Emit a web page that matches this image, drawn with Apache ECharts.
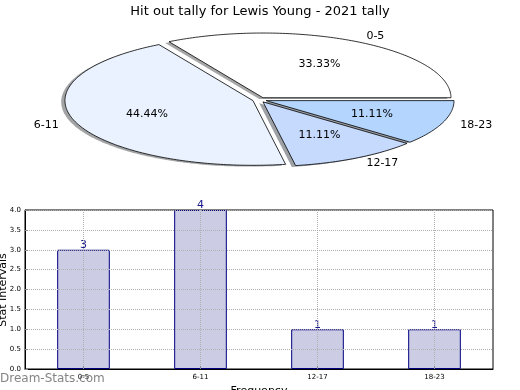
<!DOCTYPE html>
<html>
<head>
<meta charset="utf-8">
<script src="https://cdn.jsdelivr.net/npm/echarts@6/dist/echarts.min.js"></script>
<style>
html,body{margin:0;padding:0;background:#fff;}
#c{width:520px;height:390px;}
</style>
</head>
<body>
<div id="c"></div>
<script>
// ---- data ----
const categories = ['0-5', '6-11', '12-17', '18-23'];
const values = [3, 4, 1, 1];
const yTicks = ['0.0','0.5','1.0','1.5','2.0','2.5','3.0','3.5','4.0'];
const titleText = 'Hit out tally for Lewis Young - 2021 tally';
const yName = 'Stat Intervals';
const xName = 'Frequency';

// ---- style ----
const pieColors = ['#ffffff', '#eaf2ff', '#c6dafe', '#b4d5fe'];
const FONT = '"DejaVu Sans", sans-serif';
const pieLayout = { cx: 259.5, cy: 99.8, rx: 188, ry: 64.7, explode: 0.037, shadowDx: -0.02, shadowDy: -0.02 };
const gridLine = { color: '#b0b0b0', type: 'dotted', width: 1 };

const total = values.reduce((a, b) => a + b, 0);
const starts = [];
(function () { let acc = 0; values.forEach(v => { starts.push(acc); acc += v; }); })();

function shade(hex) {
  const n = parseInt(hex.slice(1), 16);
  const r = Math.round(((n >> 16) & 255) * 0.3), g = Math.round(((n >> 8) & 255) * 0.3), b = Math.round((n & 255) * 0.3);
  return 'rgba(' + r + ',' + g + ',' + b + ',0.5)';
}

function renderPie(params, api) {
  const i = params.dataIndex;
  const v = api.value(0);
  const L = pieLayout;
  const a0 = starts[i] / total * 2 * Math.PI;
  const a1 = (starts[i] + v) / total * 2 * Math.PI;
  const mid = (a0 + a1) / 2;
  const ox = L.cx + L.explode * L.rx * Math.cos(mid);
  const oy = L.cy - L.explode * L.ry * Math.sin(mid);
  const pts = [[ox, oy]];
  const n = Math.max(8, Math.ceil((a1 - a0) / (Math.PI / 180)));
  for (let k = 0; k <= n; k++) {
    const a = a0 + (a1 - a0) * k / n;
    pts.push([ox + L.rx * Math.cos(a), oy - L.ry * Math.sin(a)]);
  }
  const sdx = L.shadowDx * L.rx, sdy = -L.shadowDy * L.ry;
  const spts = pts.map(p => [p[0] + sdx, p[1] + sdy]);
  const lx = ox + 1.1 * L.rx * Math.cos(mid);
  const ly = oy - 1.1 * L.ry * Math.sin(mid);
  const px = ox + 0.6 * L.rx * Math.cos(mid);
  const py = oy - 0.6 * L.ry * Math.sin(mid);
  return {
    type: 'group',
    children: [
      { type: 'polygon', z2: 1, shape: { points: spts }, style: { fill: shade(pieColors[i]), stroke: null } },
      { type: 'polygon', z2: 10, shape: { points: pts }, style: { fill: pieColors[i], stroke: '#000', lineWidth: 0.8 } },
      { type: 'text', z2: 20, style: { text: categories[i], x: lx, y: ly, align: Math.cos(mid) > 0 ? 'left' : 'right', verticalAlign: 'middle', fill: '#000', font: '11px ' + FONT } },
      { type: 'text', z2: 20, style: { text: (v / total * 100).toFixed(2) + '%', x: px, y: py, align: 'center', verticalAlign: 'middle', fill: '#000', font: '11px ' + FONT } }
    ]
  };
}

const chart = echarts.init(document.getElementById('c'), null, { renderer: 'canvas' });
chart.setOption({
  animation: false,
  backgroundColor: '#fff',
  title: {
    text: titleText, left: 'center', top: 0,
    textStyle: { fontFamily: FONT, fontSize: 13, fontWeight: 'normal', color: '#000' }
  },
  grid: { left: 25, right: 27, top: 210, bottom: 21, containLabel: false, outerBoundsMode: 'none', show: true, borderColor: '#000', borderWidth: 1, backgroundColor: 'transparent' },
  xAxis: {
    type: 'category', data: categories, z: 5,
    name: xName, nameLocation: 'middle', nameGap: 17,
    nameTextStyle: { fontFamily: FONT, fontSize: 11, color: '#000' },
    axisLine: { lineStyle: { color: '#000' } },
    axisTick: { show: true, inside: true, alignWithLabel: true, length: 3, lineStyle: { color: '#888' } },
    axisLabel: { fontFamily: FONT, fontSize: 7, color: '#000', margin: 5 },
    splitLine: { show: false }
  },
  yAxis: {
    type: 'value', min: 0, max: 4, interval: 0.5, z: 5,
    axisLine: { show: true, lineStyle: { color: '#000' } },
    axisTick: { show: true, inside: true, length: 3, lineStyle: { color: '#888' } },
    axisLabel: { fontFamily: FONT, fontSize: 7, color: '#000', margin: 4, formatter: (val) => yTicks[Math.round(val * 2)] },
    splitLine: { show: true, lineStyle: gridLine }
  },
  series: [
    {
      type: 'custom', coordinateSystem: 'none', renderItem: renderPie,
      data: values.map((v, i) => [v, i]), silent: true
    },
    {
      type: 'bar', data: values, barWidth: '45%', z: 2,
      itemStyle: { color: '#ccccE5', borderColor: '#000080', borderWidth: 1 },
      label: { show: true, position: 'top', distance: -1, fontFamily: FONT, fontSize: 11, color: '#1a1a8c' },
      markLine: {
        silent: true, symbol: 'none', animation: false,
        label: { show: false },
        lineStyle: gridLine,
        emphasis: { disabled: true },
        data: categories.map(c => ({ xAxis: c }))
      }
    }
  ],
  graphic: [
    { type: 'text', x: 3, y: 290, rotation: Math.PI / 2, z: 100,
      style: { text: yName, align: 'center', verticalAlign: 'middle', fill: '#000', font: '11px ' + FONT } },
    { type: 'text', left: 0, top: 373, z: 100, style: { text: 'Dream-Stats.com', fill: 'rgba(110,110,110,0.85)', font: '12px ' + FONT } }
  ]
});
</script>
</body>
</html>
